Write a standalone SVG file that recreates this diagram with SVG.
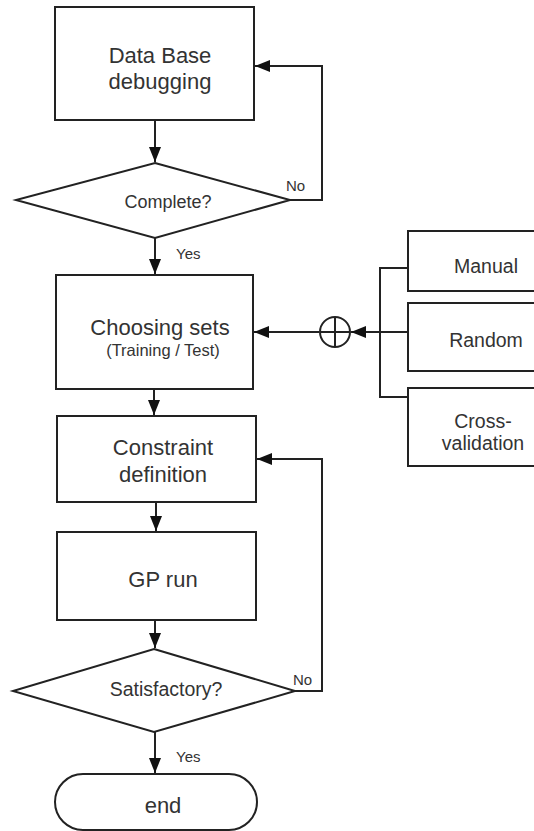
<svg xmlns="http://www.w3.org/2000/svg" width="534" height="831" viewBox="0 0 534 831">
<style>
.shape{fill:#fff;stroke:#222;stroke-width:2}
.line{fill:none;stroke:#222;stroke-width:2}
text{font-family:"Liberation Sans",Arial,sans-serif;fill:#333;text-anchor:middle}
.big{font-size:22px}
.mid{font-size:18px}
.opt{font-size:19.5px}
.lab{font-size:15px;text-anchor:start}
.small{font-size:16.5px}
</style>
<defs>
<marker id="arr" markerUnits="userSpaceOnUse" markerWidth="15" markerHeight="12" refX="15" refY="6" orient="auto">
<path d="M0,0 L15,6 L0,12 Z" fill="#111"/>
</marker>
</defs>
<rect width="534" height="831" fill="#fff"/>
<g id="connectors">
<path class="line" d="M155,120 V162" marker-end="url(#arr)"/>
<path class="line" d="M290,200 H322 V66 H255" marker-end="url(#arr)"/>
<path class="line" d="M155,238 V274" marker-end="url(#arr)"/>
<path class="line" d="M154,389 V415" marker-end="url(#arr)"/>
<path class="line" d="M156,502 V531" marker-end="url(#arr)"/>
<path class="line" d="M155,620 V648" marker-end="url(#arr)"/>
<path class="line" d="M295,691 H322 V459 H257" marker-end="url(#arr)"/>
<path class="line" d="M155,732 V773" marker-end="url(#arr)"/>
<path class="line" d="M319,332 H254" marker-end="url(#arr)"/>
<path class="line" d="M408,332 H351" marker-end="url(#arr)"/>
<path class="line" d="M408,268 H380 V397 H408"/>
</g>
<g id="n_database">
<rect class="shape" x="55" y="7" width="199" height="113"/>
<text class="big" x="160" y="63">Data Base</text>
<text class="big" x="160" y="89">debugging</text>
</g>
<g id="n_complete">
<polygon class="shape" points="155,163 290,200 155,238 16,200"/>
<text class="mid" x="168" y="208">Complete?</text>
</g>
<text class="lab" x="286" y="191">No</text>
<text class="lab" x="176" y="259">Yes</text>
<g id="n_choosing">
<rect class="shape" x="56" y="275" width="197" height="114"/>
<text class="big" x="160" y="335">Choosing sets</text>
<text class="small" x="163" y="356">(Training / Test)</text>
</g>
<g id="n_xor">
<circle class="shape" cx="335" cy="332" r="15"/>
<path class="line" d="M335,317 V347 M320,332 H350"/>
</g>
<g id="n_manual">
<rect class="shape" x="408" y="231" width="140" height="60"/>
<text class="opt" x="486" y="273">Manual</text>
</g>
<g id="n_random">
<rect class="shape" x="408" y="303" width="140" height="68"/>
<text class="opt" x="486" y="347">Random</text>
</g>
<g id="n_cross">
<rect class="shape" x="408" y="388" width="140" height="78"/>
<text class="opt" x="483" y="428">Cross-</text>
<text class="opt" x="483" y="450">validation</text>
</g>
<g id="n_constraint">
<rect class="shape" x="57" y="416" width="199" height="86"/>
<text class="big" x="163" y="455">Constraint</text>
<text class="big" x="163" y="482">definition</text>
</g>
<g id="n_gprun">
<rect class="shape" x="57" y="532" width="199" height="88"/>
<text class="big" x="163" y="587">GP run</text>
</g>
<g id="n_satisfactory">
<polygon class="shape" points="154,649 295,691 154,732 13,691"/>
<text class="opt" x="166" y="696">Satisfactory?</text>
</g>
<text class="lab" x="293" y="685">No</text>
<text class="lab" x="176" y="762">Yes</text>
<g id="n_end">
<rect class="shape" x="55" y="774" width="202" height="56" rx="28" ry="28"/>
<text class="big" x="163" y="813">end</text>
</g>
</svg>
